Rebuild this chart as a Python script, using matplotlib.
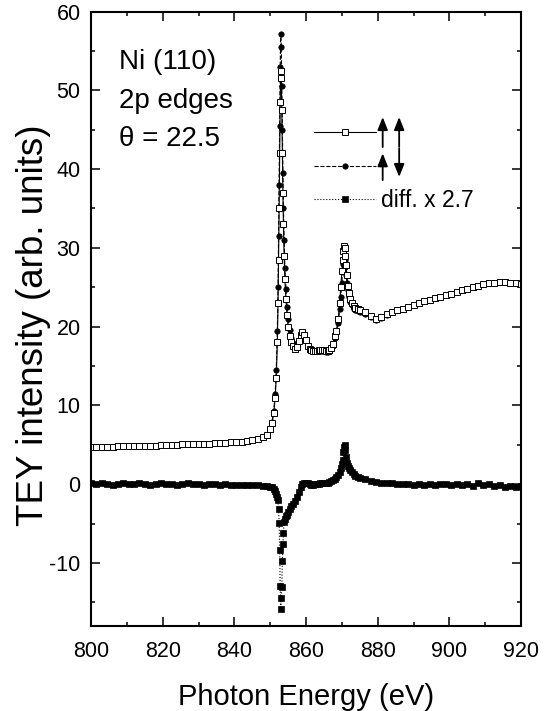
import matplotlib
matplotlib.use("Agg")
import matplotlib.pyplot as plt
from matplotlib.ticker import MultipleLocator

plt.rcParams['font.family'] = ['Liberation Sans', 'DejaVu Sans']
plt.rcParams['axes.unicode_minus'] = False

# photon energy grid (eV), shared by the three spectra
energy = [
    800.0, 801.5, 803.0, 804.5, 806.0, 807.5, 809.0, 810.5, 812.0, 813.5,
    815.0, 816.5, 818.0, 819.5, 821.0, 822.5, 824.0, 825.5, 827.0, 828.5,
    830.0, 831.5, 833.0, 834.5, 836.0, 837.5, 839.0, 840.5, 842.0, 843.5,
    845.0, 846.5, 848.0,
    849.0, 850.0, 850.5, 851.0, 851.4, 851.7, 852.0, 852.2, 852.35, 852.5,
    852.65, 852.8, 852.95, 853.1, 853.25, 853.4, 853.55, 853.7, 853.9, 854.1,
    854.4, 854.7, 855.0, 855.4, 855.8,
    856.5, 857.0, 857.5, 858.0, 858.5, 859.0, 859.5, 860.0, 860.5, 861.0,
    861.5, 862.0, 862.5, 863.0, 863.5, 864.0, 864.5, 865.0, 865.5, 866.0,
    866.5, 867.0, 867.5, 868.0,
    868.5, 869.0, 869.4, 869.7, 870.0, 870.2, 870.4, 870.6, 870.8, 871.0,
    871.2, 871.4, 871.7, 872.0, 872.4, 872.8, 873.3, 873.8, 874.4, 875.0,
    876.5, 878.0, 879.5, 881.0, 882.5, 884.0, 885.5, 887.0, 888.5, 890.0,
    891.5, 893.0, 894.5, 896.0, 897.5, 899.0, 900.5, 902.0, 903.5, 905.0,
    906.5, 908.0, 909.5, 911.0, 912.5, 914.0, 915.5, 917.0, 918.5, 920.0,
]

# TEY, magnetisation parallel (open squares)
tey_par = [
    4.70, 4.70, 4.70, 4.75, 4.75, 4.80, 4.80, 4.80, 4.85, 4.85,
    4.90, 4.90, 4.90, 4.95, 4.95, 5.00, 5.00, 5.05, 5.05, 5.10,
    5.10, 5.15, 5.15, 5.20, 5.20, 5.25, 5.30, 5.30, 5.40, 5.45,
    5.55, 5.70, 5.95,
    6.3, 7.0, 7.8, 9.0, 11.0, 13.5, 18.0, 23.0, 28.5, 35.0,
    42.0, 48.5, 52.5, 51.5, 47.5, 42.0, 37.0, 33.0, 29.0, 26.0,
    23.5, 21.5, 20.0, 18.8, 18.0,
    17.5, 17.2, 17.4, 18.2, 19.0, 19.3, 19.0, 18.3, 17.6, 17.2,
    17.0, 16.9, 16.9, 16.9, 17.0, 17.0, 17.0, 17.0, 16.9, 16.9,
    17.0, 17.3, 17.8, 18.8,
    19.5, 21.0, 23.0, 25.0, 27.0, 28.5, 29.6, 30.2, 30.0, 29.0,
    27.8, 26.5, 25.2, 24.3, 23.5, 23.0, 22.6, 22.4, 22.2, 22.1,
    21.8, 21.3, 21.0, 21.2, 21.6, 21.9, 22.1, 22.3, 22.5, 22.8,
    23.0, 23.2, 23.4, 23.6, 23.8, 24.0, 24.2, 24.4, 24.6, 24.8,
    25.0, 25.2, 25.4, 25.5, 25.6, 25.7, 25.7, 25.6, 25.5, 25.4,
]

# TEY, magnetisation antiparallel (filled circles)
tey_anti = [
    4.70, 4.70, 4.70, 4.75, 4.75, 4.80, 4.80, 4.80, 4.85, 4.85,
    4.90, 4.90, 4.90, 4.95, 4.95, 5.00, 5.00, 5.05, 5.05, 5.10,
    5.10, 5.15, 5.15, 5.20, 5.20, 5.25, 5.30, 5.30, 5.40, 5.45,
    5.55, 5.70, 5.95,
    6.3, 7.0, 7.9, 9.3, 11.5, 14.5, 19.5, 25.0, 31.5, 38.0,
    45.5, 53.0, 57.2, 55.5, 50.5, 45.0, 39.5, 35.0, 31.0, 27.5,
    24.8, 22.5, 21.0, 19.6, 18.6,
    17.9, 17.6, 17.7, 18.3, 18.9, 19.2, 18.9, 18.2, 17.5, 17.1,
    17.0, 16.9, 16.9, 16.9, 16.9, 16.9, 16.9, 16.9, 16.8, 16.8,
    16.9, 17.1, 17.6, 18.5,
    19.3, 20.5, 22.2, 23.8, 25.6, 27.0, 28.0, 28.5, 28.4, 27.6,
    26.6, 25.6, 24.6, 23.8, 23.1, 22.7, 22.3, 22.1, 22.0, 21.9,
    21.6, 21.2, 20.9, 21.1, 21.5, 21.9, 22.1, 22.3, 22.5, 22.8,
    23.0, 23.2, 23.4, 23.6, 23.8, 24.0, 24.2, 24.4, 24.6, 24.8,
    25.0, 25.2, 25.4, 25.5, 25.6, 25.7, 25.7, 25.6, 25.5, 25.4,
]

# difference spectrum, already scaled by 2.7 (filled squares)
tey_diff = [
    0.1, 0.0, 0.1, 0.0, -0.1, 0.0, 0.1, 0.0, 0.0, 0.1,
    0.0, -0.1, 0.0, 0.1, 0.0, 0.0, -0.1, 0.0, 0.1, 0.0,
    0.0, -0.1, 0.0, 0.0, -0.1, 0.0, -0.1, -0.1, -0.1, -0.1,
    -0.1, -0.1, -0.2,
    -0.2, -0.3, -0.4, -0.6, -0.9, -1.3, -1.6, -2.0, -3.2, -4.9,
    -8.4, -12.9, -15.8, -14.5, -13.0, -9.7, -7.6, -6.2, -4.8, -4.4,
    -4.1, -3.9, -3.5, -3.1, -2.8,
    -2.5, -2.1, -1.6, -1.0, -0.4, 0.0, 0.2, 0.2, 0.1, 0.0,
    -0.1, -0.1, 0.0, 0.0, 0.0, 0.1, 0.1, 0.1, 0.2, 0.2,
    0.3, 0.4, 0.5, 0.7,
    0.9, 1.2, 1.6, 2.1, 2.5, 3.1, 4.1, 4.7, 5.0, 4.4,
    3.5, 2.7, 2.3, 2.1, 1.8, 1.5, 1.3, 1.1, 0.9, 0.8,
    0.6, 0.4, 0.3, 0.2, 0.1, 0.1, 0.0, 0.0, 0.0, -0.1,
    0.0, -0.1, 0.0, -0.1, 0.0, 0.0, -0.1, 0.0, -0.1, 0.0,
    -0.2, 0.1, -0.1, 0.0, -0.2, -0.1, -0.3, -0.2, -0.3, -0.2,
]

fig = plt.figure(figsize=(5.54, 7.11), dpi=100)
ax = fig.add_axes([91 / 554, 85 / 711, 430 / 554, 614.5 / 711])

l_diff, = ax.plot(energy, tey_diff, ls=':', lw=0.8, color='black',
                  marker='s', ms=4.2, mfc='black', mec='black', mew=0.5)
l_anti, = ax.plot(energy, tey_anti, ls='--', lw=0.8, color='black',
                  marker='o', ms=3.9, mfc='black', mec='black', mew=0.5)
l_par, = ax.plot(energy, tey_par, ls='-', lw=0.8, color='black',
                 marker='s', ms=4.6, mfc='white', mec='black', mew=0.7)

ax.set_xlim(800, 920)
ax.set_ylim(-18, 60)
ax.xaxis.set_major_locator(MultipleLocator(20))
ax.xaxis.set_minor_locator(MultipleLocator(10))
ax.yaxis.set_major_locator(MultipleLocator(10))
ax.yaxis.set_minor_locator(MultipleLocator(5))
ax.tick_params(which='both', direction='in', top=True, right=True,
               width=1.1, labelsize=15.5)
ax.tick_params(which='major', length=6.2)
ax.tick_params(which='minor', length=3.2)
ax.tick_params(axis='x', pad=11)
ax.tick_params(axis='y', pad=7.5)
for sp in ax.spines.values():
    sp.set_linewidth(1.5)

ax.set_xlabel('Photon Energy (eV)', fontsize=21, labelpad=15)
ax.set_ylabel('TEY intensity (arb. units)', fontsize=26.5)
ax.yaxis.set_label_coords(-0.094, 0.49)

# sample description
ax.text(807.9, 52.7, 'Ni (110)', fontsize=20)
ax.text(807.9, 47.8, '2p edges', fontsize=20)
ax.text(807.9, 42.9, '\u03b8 = 22.5', fontsize=20)

# legend: line styles, arrows drawn next to the first two entries
leg = ax.legend([l_par, l_anti, l_diff], [' ', ' ', 'diff. x 2.7'],
                loc='upper left', bbox_to_anchor=(0.518, 0.82),
                frameon=False, fontsize=16.5, handlelength=2.7,
                handletextpad=0.25, borderpad=0, borderaxespad=0,
                labelspacing=0.46, markerscale=1.0)

arrow = dict(arrowstyle='-|>,head_length=0.55,head_width=0.22',
             color='black', lw=1.3, shrinkA=0, shrinkB=0, mutation_scale=14)
ax.annotate('', xy=(881.4, 46.6), xytext=(881.4, 42.8), arrowprops=arrow)
ax.annotate('', xy=(886.0, 46.6), xytext=(886.0, 42.8), arrowprops=arrow)
ax.annotate('', xy=(881.4, 42.0), xytext=(881.4, 38.6), arrowprops=arrow)
ax.annotate('', xy=(886.0, 39.0), xytext=(886.0, 42.6), arrowprops=arrow)

fig.savefig('out.png', dpi=100)
